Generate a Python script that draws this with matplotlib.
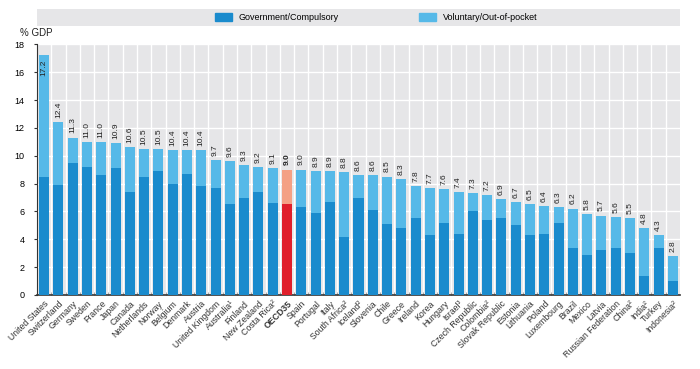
import matplotlib
matplotlib.use('Agg')

import matplotlib.pyplot as plt
import matplotlib.patches as mpatches
import numpy as np

plt.rcParams['font.family'] = ['Liberation Sans Narrow', 'Liberation Sans', 'DejaVu Sans']

countries = ["United States", "Switzerland", "Germany", "Sweden", "France", "Japan",
             "Canada", "Netherlands", "Norway", "Belgium", "Denmark", "Austria",
             "United Kingdom", "Australia¹", "Finland", "New Zealand", "Costa Rica²",
             "OECD35", "Spain", "Portugal", "Italy", "South Africa²", "Iceland²",
             "Slovenia", "Chile", "Greece", "Ireland", "Korea", "Hungary", "Israel³",
             "Czech Republic", "Colombia²", "Slovak Republic", "Estonia", "Lithuania",
             "Poland", "Luxembourg", "Brazil", "Mexico", "Latvia", "Russian Federation",
             "China²", "India²", "Turkey", "Indonesia²"]

total = [17.2, 12.4, 11.3, 11.0, 11.0, 10.9, 10.6, 10.5, 10.5, 10.4, 10.4, 10.4,
         9.7, 9.6, 9.3, 9.2, 9.1, 9.0, 9.0, 8.9, 8.9, 8.8, 8.6, 8.6, 8.5, 8.3,
         7.8, 7.7, 7.6, 7.4, 7.3, 7.2, 6.9, 6.7, 6.5, 6.4, 6.3, 6.2, 5.8, 5.7,
         5.6, 5.5, 4.8, 4.3, 2.8]

government = [8.5, 7.9, 9.5, 9.2, 8.6, 9.1, 7.4, 8.5, 8.9, 8.0, 8.7, 7.8,
              7.7, 6.5, 7.0, 7.4, 6.6, 6.5, 6.3, 5.9, 6.7, 4.2, 7.0, 6.1, 5.1, 4.8,
              5.5, 4.3, 5.2, 4.4, 6.0, 5.4, 5.5, 5.0, 4.3, 4.4, 5.2, 3.4, 2.9, 3.2,
              3.4, 3.0, 1.4, 3.4, 1.0]

voluntary = [t - g for t, g in zip(total, government)]

blue = '#1a8bcd'
light = '#56b9e8'
red = '#e01f2b'
salmon = '#f4a185'
bg = '#e6e6e8'

gov_colors = [red if c == "OECD35" else blue for c in countries]
vol_colors = [salmon if c == "OECD35" else light for c in countries]

fig = plt.figure(figsize=(7, 3.69), dpi=100)
ax = fig.add_axes([37/700, 1 - 295/369, 643/700, 250.7/369])
ax.set_facecolor(bg)

x = np.arange(len(countries))
ax.bar(x, government, width=0.7, color=gov_colors, zorder=3)
ax.bar(x, voluntary, bottom=government, width=0.7, color=vol_colors, zorder=3)

for i in range(len(countries)):
    bold = 'bold' if countries[i] == "OECD35" else 'normal'
    if total[i] > 16:
        ax.text(x[i], total[i] - 0.3, "%.1f" % total[i], rotation=90, ha='center',
                va='top', fontsize=6, color='#222222', zorder=4)
    else:
        ax.text(x[i], total[i] + 0.3, "%.1f" % total[i], rotation=90, ha='center',
                va='bottom', fontsize=6, color='#222222', fontweight=bold, zorder=4)

ax.set_xlim(-0.5, len(countries) - 0.5)
ax.set_ylim(0, 18)
ax.set_yticks(np.arange(0, 19, 2))
ax.set_xticks(x)
ax.set_xticklabels(countries, rotation=45, ha='right', rotation_mode='anchor',
                   fontsize=6.3, color='#333333')
for lab in ax.get_xticklabels():
    if lab.get_text() == "OECD35":
        lab.set_fontweight('bold')
ax.tick_params(axis='x', length=0, pad=3)
ax.tick_params(axis='y', labelsize=6.5, length=2, color='#333333', pad=7)

# white grid: horizontal lines and slot separators
ax.set_xticks(np.arange(0.5, len(countries) - 0.5, 1), minor=True)
ax.grid(axis='y', color='white', linewidth=1, zorder=0)
ax.grid(axis='x', which='minor', color='white', linewidth=1, zorder=0)
ax.grid(axis='x', which='major', visible=False)
ax.tick_params(axis='x', which='minor', length=2, direction='in', color='#999999')
for s in ['top', 'right']:
    ax.spines[s].set_visible(False)
ax.spines['left'].set_color('#333333')
ax.spines['bottom'].set_color('#333333')
ax.spines['bottom'].set_linewidth(1.2)

fig.text(20/700, 1 - 33/369, "% GDP", fontsize=7, color='#222222',
         ha='left', va='center')

# legend band
lax = fig.add_axes([37/700, 1 - 26/369, 643/700, 17/369])
lax.set_facecolor(bg)
lax.set_xticks([])
lax.set_yticks([])
for s in lax.spines.values():
    s.set_visible(False)
handles = [mpatches.Patch(color=blue, label="Government/Compulsory"),
           mpatches.Patch(color=light, label="Voluntary/Out-of-pocket")]
lax.legend(handles=handles, loc='center', ncol=2, frameon=False, fontsize=6.5,
           handlelength=1.8, handleheight=0.9, handletextpad=0.8, columnspacing=8.9,
           bbox_to_anchor=(0.528, 0.5))

plt.savefig("out.png", dpi=100)
